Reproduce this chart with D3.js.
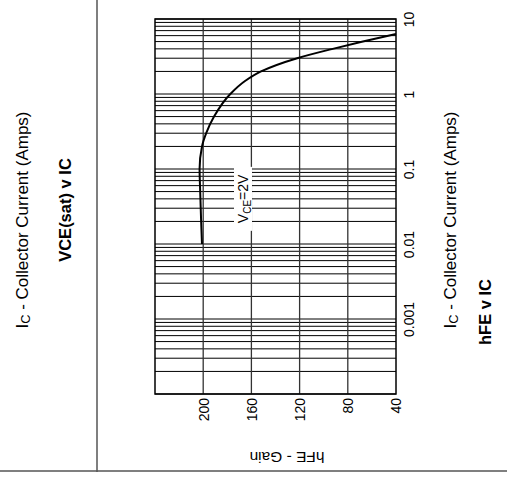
<!DOCTYPE html>
<html>
<head>
<meta charset="utf-8">
<script src="https://cdn.jsdelivr.net/npm/d3@7"></script>
<style>
  html, body { margin: 0; padding: 0; background: #fff; }
  svg { display: block; font-family: "Liberation Sans", Arial, sans-serif; }
</style>
</head>
<body>
<svg id="chart" width="507" height="480"></svg>
<script>
// Collector current (A) and DC current gain along the VCE = 2V curve
const icValues  = [0.01, 0.02, 0.05, 0.1, 0.2, 0.3, 0.5, 1.0, 1.5, 2.0, 3.0, 4.0, 5.0, 6.3];
const hfeValues = [201, 201.7, 202.5, 203, 201, 197.5, 191, 177.5, 165, 152, 122, 92.5, 67.5, 40];

// Axis ticks
const icTicks = [0.001, 0.01, 0.1, 1, 10];
const icTickLabels = ["0.001", "0.01", "0.1", "1", "10"];
const hfeTicks = [200, 160, 120, 80, 40];
const hfeTickLabels = ["200", "160", "120", "80", "40"];

// Grid: decade starts and 1..9 multipliers for the log grid, gain lines
const gridDecades = [0.0001, 0.001, 0.01, 0.1, 1];
const gridMultipliers = [1, 2, 3, 4, 5, 6, 7, 8, 9];
const hfeGrid = [200, 160, 120, 80];

const svg = d3.select("#chart");

const plot = { left: 155, right: 396, top: 19, bottom: 394 };

// Gain runs left-to-right (high to low), current runs bottom-to-top (log)
const x = d3.scaleLinear().domain([240, 40]).range([plot.left, plot.right]);
const y = d3.scaleLog().domain([0.0001, 10]).range([plot.bottom, plot.top]);

// Page frame lines
svg.append("line").attr("x1", 97).attr("x2", 97).attr("y1", 0).attr("y2", 472)
  .attr("stroke", "#555").attr("stroke-width", 1.5);
svg.append("line").attr("x1", 0).attr("x2", 507).attr("y1", 471).attr("y2", 471)
  .attr("stroke", "#555").attr("stroke-width", 1.5);

// Horizontal log grid
const icGrid = [];
gridDecades.forEach(d => gridMultipliers.forEach(m => icGrid.push(d * m)));
icGrid.push(10);

const grid = svg.append("g").attr("stroke", "#000").attr("stroke-width", 1);
grid.selectAll("line.h").data(icGrid).join("line")
  .attr("class", "h")
  .attr("x1", plot.left).attr("x2", plot.right)
  .attr("y1", d => y(d)).attr("y2", d => y(d));
grid.selectAll("line.v").data(hfeGrid).join("line")
  .attr("class", "v")
  .attr("x1", d => x(d)).attr("x2", d => x(d))
  .attr("y1", plot.top).attr("y2", plot.bottom)
  .attr("stroke", "#333").attr("stroke-width", 1.3);

// Plot border
svg.append("rect")
  .attr("x", plot.left).attr("y", plot.top)
  .attr("width", plot.right - plot.left).attr("height", plot.bottom - plot.top)
  .attr("fill", "none").attr("stroke", "#000").attr("stroke-width", 1.5);

// Curve label with a white backing
const lab = svg.append("g").attr("transform", `translate(243,${y(0.04)}) rotate(-90)`);
lab.append("rect").attr("x", -32).attr("y", -9).attr("width", 64).attr("height", 18).attr("fill", "#fff");
const lt = lab.append("text").attr("text-anchor", "middle").attr("dy", "0.35em")
  .attr("font-size", 14).attr("fill", "#000");
lt.append("tspan").text("V");
lt.append("tspan").attr("font-size", 10).attr("dy", 3).text("CE");
lt.append("tspan").attr("dy", -3).text("=2V");

// hFE curve
const pts = icValues.map((v, i) => [v, hfeValues[i]]);
svg.append("path")
  .datum(pts)
  .attr("fill", "none").attr("stroke", "#000").attr("stroke-width", 2)
  .attr("d", d3.line().x(d => x(d[1])).y(d => y(d[0])).curve(d3.curveMonotoneY));

// Current axis on the right, labels rotated
const icAxis = svg.append("g")
  .attr("transform", `translate(${plot.right},0)`)
  .call(d3.axisRight(y).tickValues(icTicks).tickSize(0)
    .tickFormat((d, i) => icTickLabels[i]));
icAxis.select(".domain").remove();
icAxis.selectAll("text")
  .attr("transform", "rotate(-90)")
  .attr("x", 0).attr("y", 13).attr("dy", "0.35em")
  .attr("text-anchor", "middle")
  .attr("font-size", 14).attr("font-family", "Liberation Sans, Arial, sans-serif")
  .attr("fill", "#000");

// Gain axis along the bottom, labels rotated
const hfeAxis = svg.append("g")
  .attr("transform", `translate(0,${plot.bottom})`)
  .call(d3.axisBottom(x).tickValues(hfeTicks).tickSize(0)
    .tickFormat((d, i) => hfeTickLabels[i]));
hfeAxis.select(".domain").remove();
hfeAxis.selectAll("text")
  .attr("transform", "rotate(-90)")
  .attr("x", -4).attr("y", 0).attr("dy", "0.35em")
  .attr("text-anchor", "end")
  .attr("font-size", 14).attr("font-family", "Liberation Sans, Arial, sans-serif")
  .attr("fill", "#000");

// Titles
function vtext(cx, cy, size, weight) {
  return svg.append("text")
    .attr("transform", `translate(${cx},${cy}) rotate(-90)`)
    .attr("text-anchor", "middle").attr("dy", "0.35em")
    .attr("font-size", size).attr("font-weight", weight).attr("fill", "#000");
}
function icTitle(t) {
  t.append("tspan").text("I");
  t.append("tspan").attr("font-size", "0.75em").attr("dy", 2).text("C");
  t.append("tspan").attr("dy", -2).text(" - Collector Current (Amps)");
}
icTitle(vtext(22, 220, 17, "normal"));
vtext(65, 210, 16.5, "bold").text("VCE(sat) v IC");
icTitle(vtext(450, 220, 17, "normal"));
vtext(485, 312, 16.5, "bold").text("hFE v IC");

svg.append("text")
  .attr("transform", "translate(287,457) rotate(180)")
  .attr("text-anchor", "middle").attr("dy", "0.35em")
  .attr("font-size", 15.5).attr("fill", "#000")
  .text("hFE - Gain");
</script>
</body>
</html>
